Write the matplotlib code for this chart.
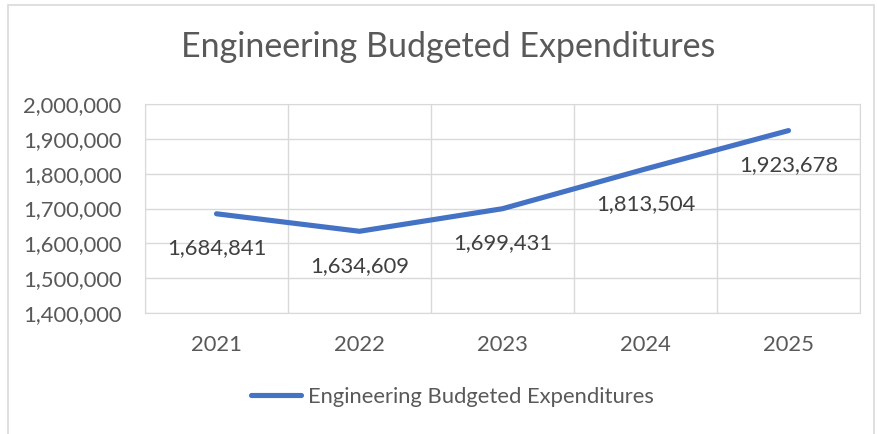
import matplotlib.pyplot as plt
from matplotlib.patches import Rectangle
from matplotlib.ticker import FuncFormatter

years = ['2021', '2022', '2023', '2024', '2025']
expenditures = [1684841, 1634609, 1699431, 1813504, 1923678]
series_name = 'Engineering Budgeted Expenditures'

plt.rcParams['font.family'] = ['Lato', 'DejaVu Sans']
text_color = '#595959'
grid_color = '#d9d9d9'

fig = plt.figure(figsize=(8.78, 4.34), dpi=100)
W, H = 878, 434
ax = fig.add_axes([145 / W, 1 - 313 / H, (860 - 145) / W, (313 - 104) / H])

x = list(range(len(years)))
ax.plot(x, expenditures, color='#4472C4', linewidth=3.7, solid_capstyle='round',
        label=series_name)

for xi, v in zip(x, expenditures):
    ax.annotate(f'{v:,}', (xi, v), xytext=(0, -25), textcoords='offset points',
                ha='center', va='center', fontsize=15.8, color='#404040')

ax.set_xlim(-0.5, len(years) - 0.5)
ax.set_ylim(1400000, 2000000)
ax.set_yticks(range(1400000, 2000001, 100000))
ax.yaxis.set_major_formatter(FuncFormatter(lambda v, p: f'{int(v):,}'))
ax.set_xticks(x)
ax.set_xticklabels(years)
ax.set_xticks([i - 0.5 for i in range(len(years) + 1)], minor=True)

ax.grid(True, which='major', axis='y', color=grid_color, linewidth=1)
ax.grid(True, which='minor', axis='x', color=grid_color, linewidth=1)
ax.tick_params(which='both', length=0)
ax.tick_params(axis='y', labelsize=15.8, labelcolor=text_color, pad=17)
ax.tick_params(axis='x', labelsize=15.8, labelcolor=text_color, pad=16)
for s in ax.spines.values():
    s.set_color(grid_color)
ax.set_axisbelow(True)

fig.text(448 / W, 1 - 47 / H, series_name, ha='center', va='center',
         fontsize=24.5, color=text_color)

fig.legend(loc='center', bbox_to_anchor=(452 / W, 1 - 397 / H), frameon=False,
           fontsize=15.8, labelcolor=text_color, handlelength=2.3, handletextpad=0.3)

fig.patches.append(Rectangle((8 / W, -0.05), 0.995 - 8 / W, 1.05 - 5 / H,
                             transform=fig.transFigure, fill=False,
                             edgecolor=grid_color, linewidth=1.2))

fig.savefig('out.png', dpi=100)
